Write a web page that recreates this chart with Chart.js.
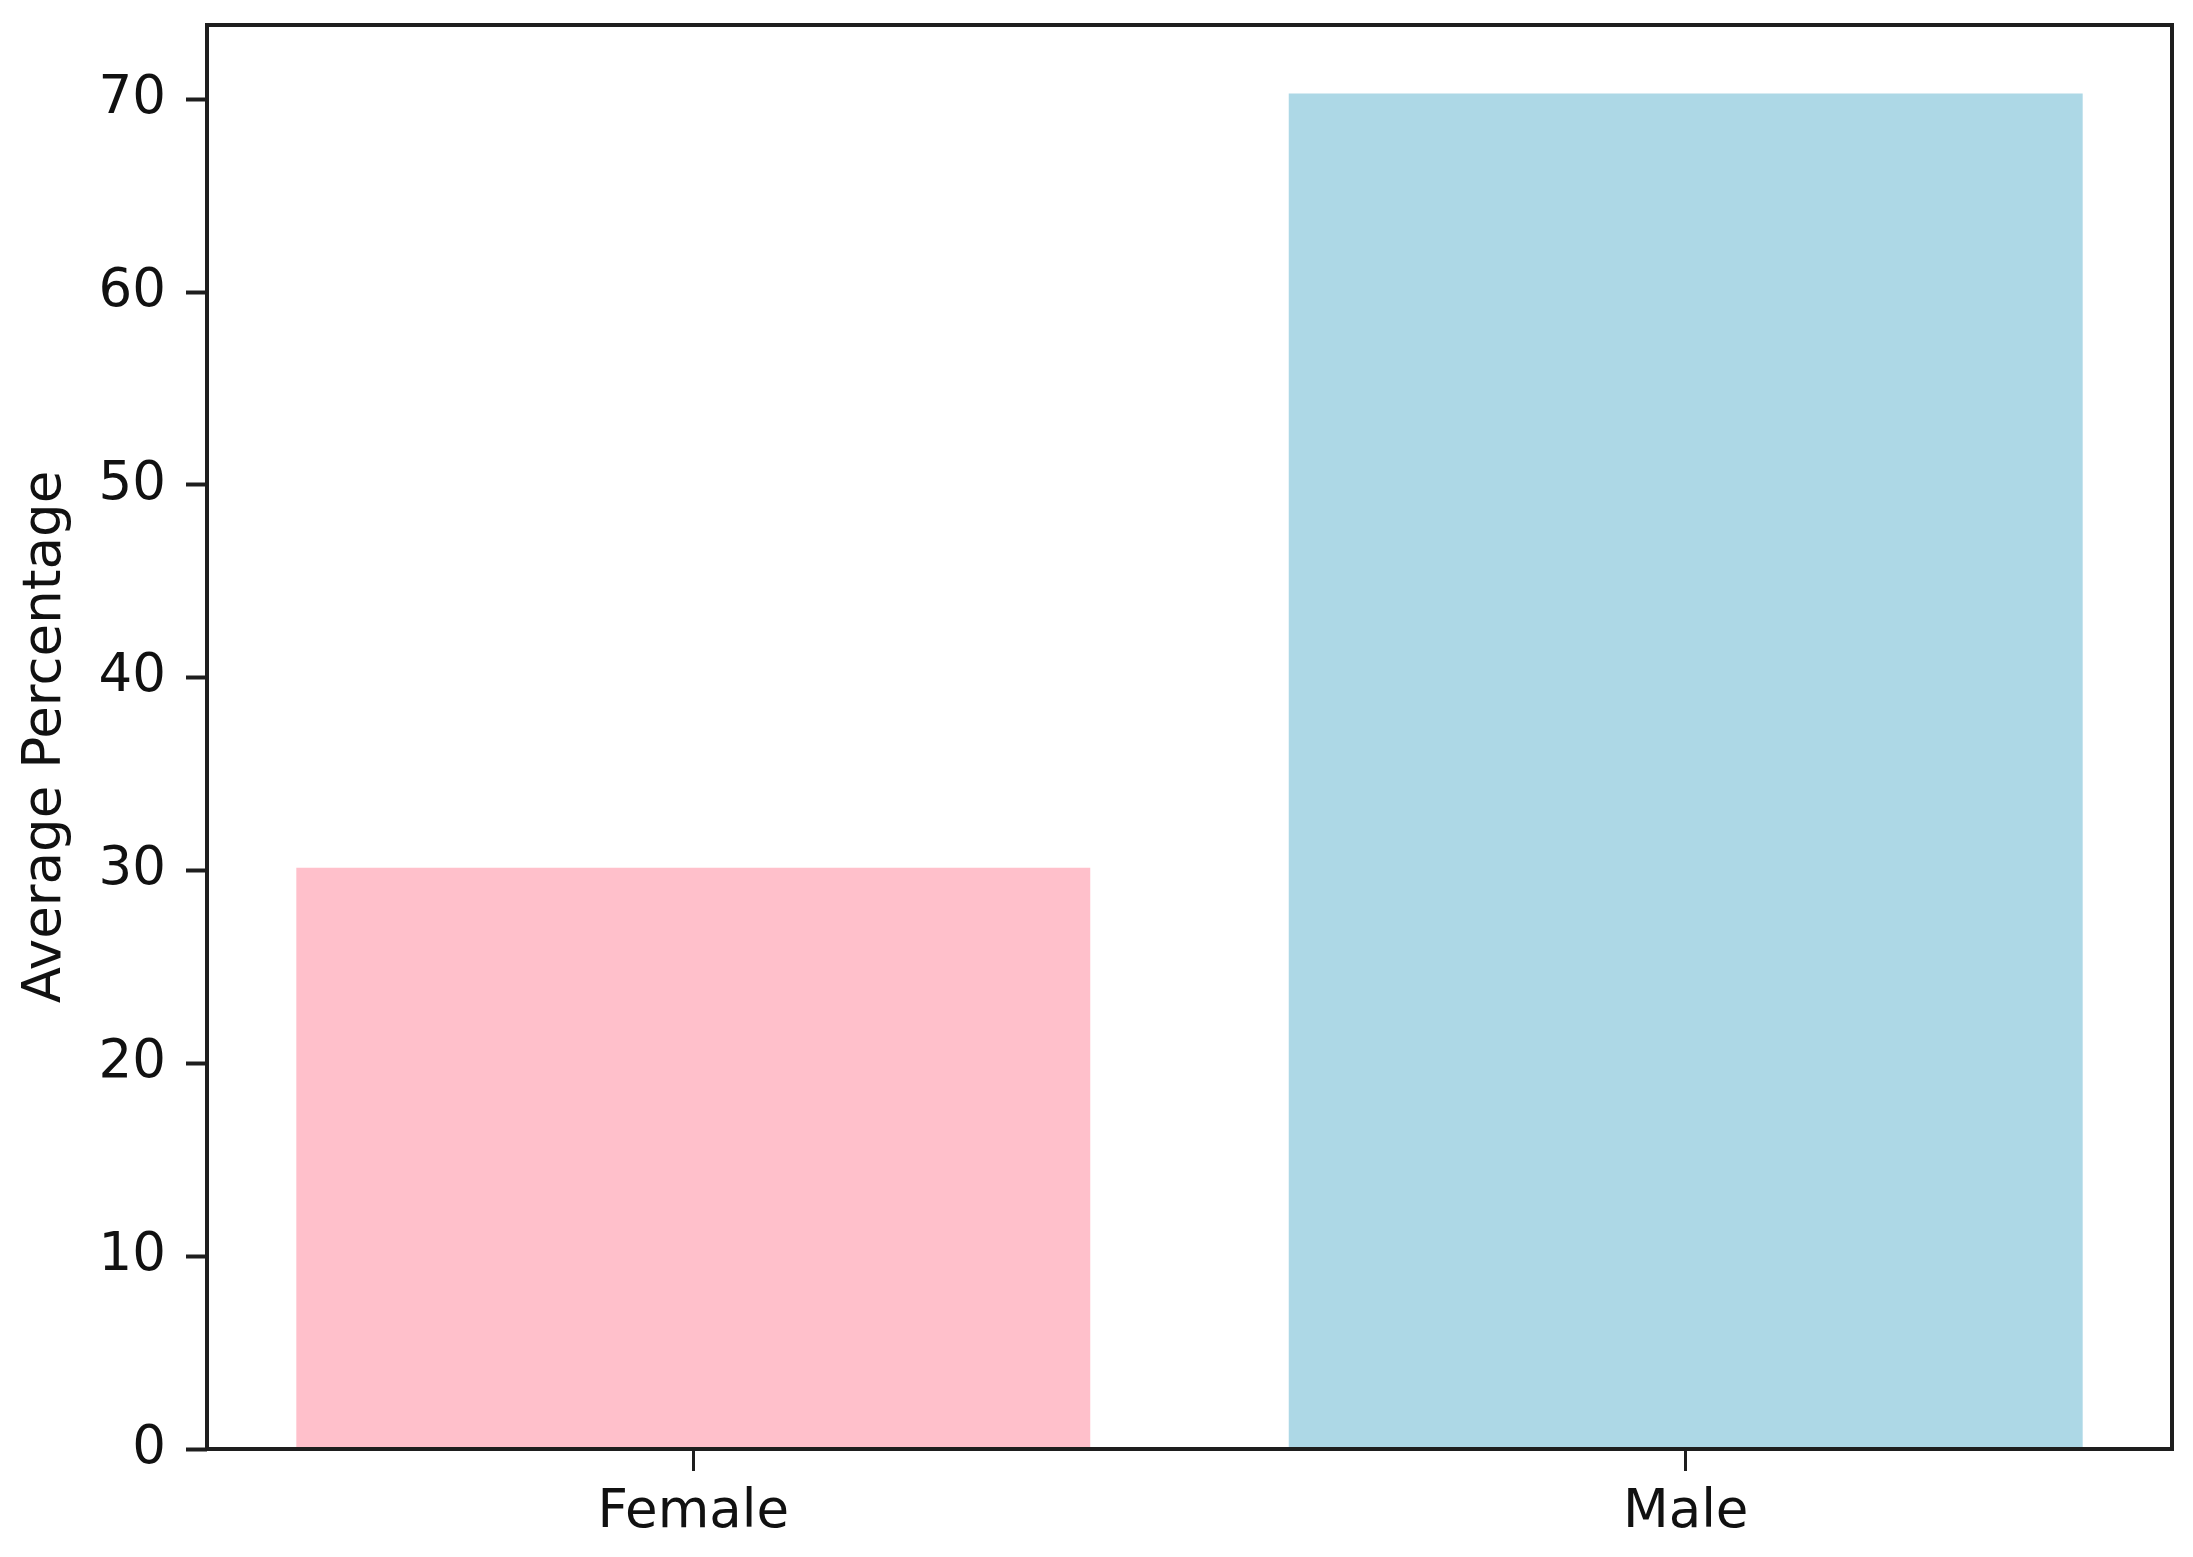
<!DOCTYPE html>
<html>
<head>
<meta charset="utf-8">
<script src="https://cdn.jsdelivr.net/npm/chart.js@4.4.0/dist/chart.umd.min.js"></script>
<style>
  html, body { margin: 0; padding: 0; background: #fff; }
  #wrap { width: 2193px; height: 1557px; }
</style>
</head>
<body>
<div id="wrap"><canvas id="myChart" width="2193" height="1557"></canvas></div>
<script>
const categories = ['Female', 'Male'];
const avgPercentage = [30.15, 70.3];
const barColors = ['#FFC0CB', '#ADD8E6'];
const yTicks = [0, 10, 20, 30, 40, 50, 60, 70];

// full box around the plot area, like matplotlib spines
const frame = {
    id: 'frame',
    afterDraw(chart) {
        const a = chart.chartArea;
        const c = chart.ctx;
        c.save();
        c.strokeStyle = '#1e1e1e';
        c.lineWidth = 4;
        c.strokeRect(a.left, a.top, a.right - a.left, a.bottom - a.top);
        c.restore();
    }
};

const ctx = document.getElementById('myChart').getContext('2d');

const myChart = new Chart(ctx, {
    type: 'bar',
    data: {
        datasets: [{
            label: 'Average Percentage',
            data: avgPercentage.map((v, i) => ({ x: i, y: v })),
            backgroundColor: barColors,
            borderWidth: 0,
            categoryPercentage: 1.0,
            barPercentage: 0.8
        }]
    },
    options: {
        responsive: false,
        animation: false,
        layout: { padding: { top: 25, right: 21, left: 0, bottom: 0 } },
        plugins: {
            legend: { display: false },
            tooltip: { enabled: false }
        },
        scales: {
            x: {
                type: 'linear',
                offset: false,
                min: -0.49,
                max: 1.49,
                afterBuildTicks(scale) {
                    scale.ticks = categories.map((c, i) => ({ value: i }));
                },
                grid: {
                    offset: false,
                    drawOnChartArea: false,
                    drawTicks: true,
                    tickLength: 22,
                    tickWidth: 3,
                    tickColor: '#1e1e1e'
                },
                border: { display: false },
                ticks: {
                    color: '#111',
                    font: { family: 'DejaVu Sans', size: 53 },
                    padding: 10,
                    callback: (v) => categories[v]
                },
                afterFit(scale) {
                    scale.height = 108;
                    scale.paddingLeft = 0;
                    scale.paddingRight = 0;
                }
            },
            y: {
                min: 0,
                max: 73.85,
                afterBuildTicks(scale) {
                    scale.ticks = yTicks.map(v => ({ value: v }));
                },
                grid: {
                    drawOnChartArea: false,
                    drawTicks: true,
                    tickLength: 21,
                    tickWidth: 4,
                    tickColor: '#1e1e1e'
                },
                border: { display: false },
                ticks: {
                    color: '#111',
                    font: { family: 'DejaVu Sans', size: 53 },
                    padding: 20
                },
                title: {
                    display: true,
                    text: 'Average Percentage',
                    color: '#111',
                    font: { family: 'DejaVu Sans', size: 53 },
                    padding: { top: 14, bottom: 0 }
                },
                afterFit(scale) {
                    scale.width = 207;
                    scale.paddingTop = 0;
                    scale.paddingBottom = 0;
                }
            }
        }
    },
    plugins: [frame]
});
</script>
</body>
</html>
